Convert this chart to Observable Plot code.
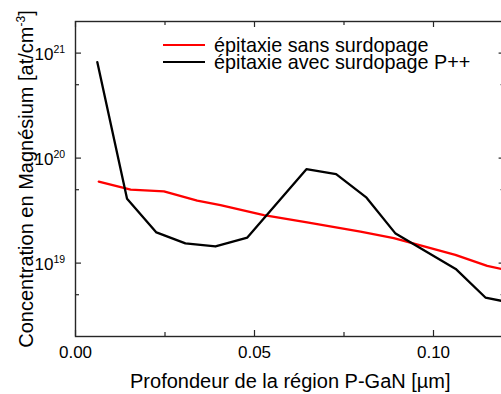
<!DOCTYPE html>
<html>
<head>
<meta charset="utf-8">
<script src="https://cdn.jsdelivr.net/npm/d3@7"></script>
<script src="https://cdn.jsdelivr.net/npm/@observablehq/plot@0.6"></script>
<style>
  body { margin: 0; background: #fff; font-family: "Liberation Sans", Arial, sans-serif; }
  #wrap { position: relative; width: 501px; height: 394px; overflow: hidden; }
  #legend { position: absolute; left: 163px; top: 37px; font-size: 19.8px; color: #000; }
  #legend .row { display: flex; align-items: center; height: 17px; line-height: 17px; }
  #legend .sw { width: 42px; height: 0; border-top: 2px solid; margin-right: 9px; position: relative; top: -1px; }
</style>
</head>
<body>
<div id="wrap"></div>
<script>
// Mg concentration profiles (depth in µm, concentration in at/cm³)
const depthSans = [0.0065, 0.0154, 0.0247, 0.0340, 0.0405, 0.0526, 0.0647, 0.0796, 0.0889, 0.1061, 0.1150, 0.1190, 0.1229];
const concSans  = [5.97e19, 5.0e19, 4.82e19, 3.93e19, 3.57e19, 2.87e19, 2.44e19, 1.99e19, 1.73e19, 1.2e19, 9.4e18, 8.8e18, 8.4e18];

const depthAvec = [0.0061, 0.0144, 0.0226, 0.0307, 0.0391, 0.0480, 0.0645, 0.0728, 0.0813, 0.0894, 0.1062, 0.1145, 0.1229];
const concAvec  = [8.2e20, 4.1e19, 1.96e19, 1.54e19, 1.44e19, 1.75e19, 7.85e19, 7.05e19, 4.2e19, 1.91e19, 8.8e18, 4.7e18, 4.1e18];

const seriesNames  = ["épitaxie sans surdopage", "épitaxie avec surdopage P++"];
const seriesColors = ["#ff0000", "#000000"];

// axes
const xTicks = [0, 0.05, 0.10];
const xMinorTicks = [0.025, 0.075];
const yExponents = [19, 20, 21];
const yMinorTicks = [5e18, 5e19, 5e20];
const xDomain = [0, 0.12];
const yDomain = [2e18, 2e21];
const xTitle = "Profondeur de la région P-GaN [µm]";
const yTitleMain = "Concentration en Magnésium [at/cm";
const yTitleSup = "-3";
const yTitleEnd = "]";

const W = 501, H = 394;
const mL = 75, mT = 21, mB = 58, mR = -3.6;
const frameW = W - mL - mR, frameH = H - mT - mB;
const axisColor = "#262626";

const sans = depthSans.map((d, i) => ({depth: d, conc: concSans[i]}));
const avec = depthAvec.map((d, i) => ({depth: d, conc: concAvec[i]}));

const majorLen = 6, minorLen = 4;

const chart = Plot.plot({
  width: W, height: H,
  marginLeft: mL, marginTop: mT, marginBottom: mB, marginRight: mR,
  style: {fontFamily: '"Liberation Sans", Arial, sans-serif', background: "transparent", color: "#000"},
  x: {domain: xDomain, axis: null},
  y: {type: "log", domain: yDomain, axis: null},
  marks: [
    Plot.line(sans, {x: "depth", y: "conc", stroke: seriesColors[0], strokeWidth: 2.3, clip: true}),
    Plot.line(avec, {x: "depth", y: "conc", stroke: seriesColors[1], strokeWidth: 2.3, clip: true}),
    Plot.frame({stroke: axisColor, strokeWidth: 1.4}),
    // inward ticks, bottom and top
    Plot.ruleX(xTicks, {insetTop: frameH - majorLen, stroke: axisColor, strokeWidth: 1.2}),
    Plot.ruleX(xTicks, {insetBottom: frameH - majorLen, stroke: axisColor, strokeWidth: 1.2}),
    Plot.ruleX(xMinorTicks, {insetTop: frameH - minorLen, stroke: axisColor, strokeWidth: 1.2}),
    Plot.ruleX(xMinorTicks, {insetBottom: frameH - minorLen, stroke: axisColor, strokeWidth: 1.2}),
    // inward ticks, left and right
    Plot.ruleY(yExponents, {y: d => 10 ** d, insetRight: frameW - majorLen, stroke: axisColor, strokeWidth: 1.2}),
    Plot.ruleY(yExponents, {y: d => 10 ** d, insetLeft: frameW - majorLen, stroke: axisColor, strokeWidth: 1.2}),
    Plot.ruleY(yMinorTicks, {insetRight: frameW - minorLen, stroke: axisColor, strokeWidth: 1.2}),
    Plot.ruleY(yMinorTicks, {insetLeft: frameW - minorLen, stroke: axisColor, strokeWidth: 1.2}),
    // x tick labels
    Plot.text(xTicks, {x: d => d, frameAnchor: "bottom", text: d => d3.format(".2f")(d), lineAnchor: "top", dy: 9, fontSize: 17, fill: "#000"}),
    // y tick labels: 10 with exponent
    Plot.text(yExponents, {y: d => 10 ** d, frameAnchor: "left", text: () => "10", textAnchor: "end", dx: -22, dy: 1, fontSize: 17, fill: "#000"}),
    Plot.text(yExponents, {y: d => 10 ** d, frameAnchor: "left", text: d => String(d), textAnchor: "start", dx: -22, dy: -3, fontSize: 10.5, fill: "#000"}),
    // axis titles
    Plot.text([xTitle], {frameAnchor: "bottom", text: d => d, lineAnchor: "top", dy: 37, fontSize: 20, fill: "#000"}),
    Plot.text([yTitleMain + yTitleSup + yTitleEnd], {frameAnchor: "left", text: d => d, rotate: -90, textAnchor: "middle", lineAnchor: "top", dx: -57, fontSize: 20, fill: "#000"})
  ]
});

// set the unit exponent of the y title as a superscript
for (const t of chart.querySelectorAll("text")) {
  if (t.textContent === yTitleMain + yTitleSup + yTitleEnd) {
    t.textContent = yTitleMain;
    const sup = document.createElementNS("http://www.w3.org/2000/svg", "tspan");
    sup.setAttribute("dy", "-8");
    sup.setAttribute("font-size", "12");
    sup.textContent = yTitleSup;
    const end = document.createElementNS("http://www.w3.org/2000/svg", "tspan");
    end.setAttribute("dy", "8");
    end.textContent = yTitleEnd;
    t.appendChild(sup);
    t.appendChild(end);
  }
}

const wrap = document.getElementById("wrap");
wrap.appendChild(chart);

// legend
const legend = document.createElement("div");
legend.id = "legend";
seriesNames.forEach((name, i) => {
  const row = document.createElement("div");
  row.className = "row";
  const sw = document.createElement("span");
  sw.className = "sw";
  sw.style.borderColor = seriesColors[i];
  const label = document.createElement("span");
  label.textContent = name;
  row.appendChild(sw);
  row.appendChild(label);
  legend.appendChild(row);
});
wrap.appendChild(legend);
</script>
</body>
</html>
